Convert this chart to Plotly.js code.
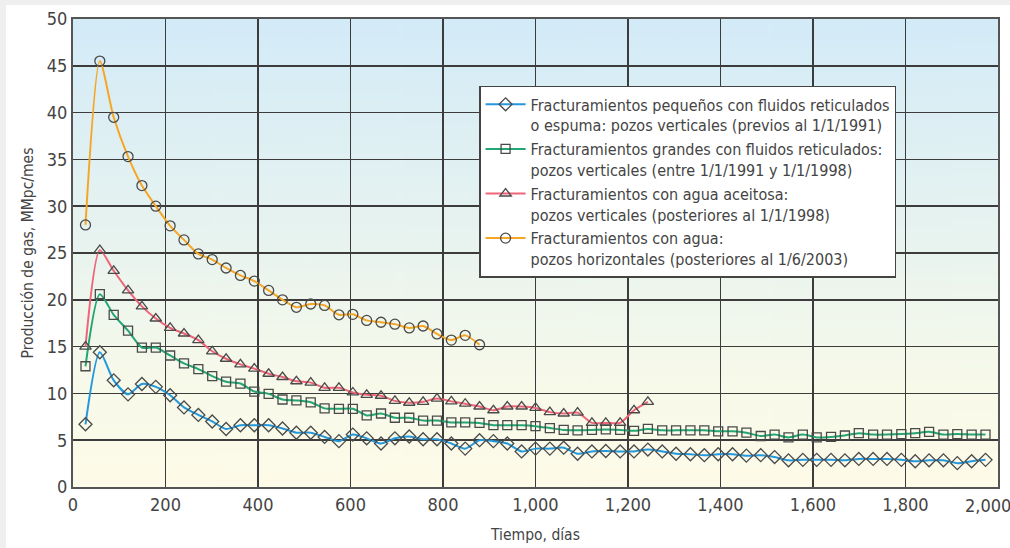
<!DOCTYPE html>
<html>
<head>
<meta charset="utf-8">
<script src="https://cdn.plot.ly/plotly-3.0.1.min.js"></script>
<style>
  html, body { margin: 0; padding: 0; background: #efefef; }
  #panel { position: absolute; left: 6px; top: 5px; width: 1004px; height: 543px; background: #ffffff; }
  #chart { position: absolute; left: 0; top: 0; width: 1010px; height: 548px; }
</style>
</head>
<body>
<div id="panel"></div>
<div id="chart"></div>
<script>
// Days since start (monthly readings)
const days = [27, 58, 88, 119, 149, 179, 210, 240, 271, 301, 331, 362, 392, 423, 453, 483, 514, 544, 575, 605,
  635, 666, 696, 727, 757, 787, 818, 848, 879, 909, 939, 970, 1000, 1031, 1061, 1091, 1122, 1152, 1183, 1213,
  1243, 1274, 1304, 1335, 1365, 1395, 1426, 1456, 1487, 1517, 1547, 1578, 1608, 1639, 1669, 1699, 1730, 1760,
  1791, 1821, 1851, 1882, 1912, 1943, 1973];

// Fracturamientos pequeños (diamonds, blue)
const smallFracs = [6.7, 14.4, 11.4, 9.9, 11.0, 10.7, 9.8, 8.5, 7.7, 7.0, 6.2, 6.6, 6.6, 6.6, 6.25, 5.8, 5.8, 5.35, 4.9, 5.6,
  5.2, 4.65, 5.2, 5.4, 5.1, 5.1, 4.65, 4.1, 5.0, 4.9, 4.65, 3.8, 4.1, 4.1, 4.2, 3.55, 3.8, 3.85, 3.8, 3.8,
  4.0, 3.8, 3.55, 3.5, 3.4, 3.5, 3.5, 3.35, 3.4, 3.2, 2.85, 2.9, 2.9, 2.9, 2.85, 3.0, 3.0, 3.0, 2.9, 2.75,
  2.85, 2.85, 2.55, 2.75, 2.9];

// Fracturamientos grandes (squares, green)
const largeFracs = [12.9, 20.6, 18.4, 16.7, 14.9, 14.9, 14.05, 13.2, 12.6, 11.85, 11.25, 11.05, 10.2, 9.95, 9.35, 9.25, 9.05, 8.4, 8.35, 8.35,
  7.65, 7.85, 7.4, 7.4, 7.1, 7.1, 6.9, 6.9, 6.85, 6.6, 6.6, 6.6, 6.5, 6.3, 6.1, 6.05, 6.1, 6.15, 6.1, 6.0,
  6.2, 6.05, 6.05, 6.05, 6.05, 5.95, 5.95, 5.8, 5.45, 5.6, 5.3, 5.6, 5.3, 5.35, 5.5, 5.75, 5.6, 5.6, 5.65, 5.75,
  5.9, 5.6, 5.65, 5.6, 5.6];

// Agua aceitosa (triangles, red)
const slickWater = [15.0, 25.3, 23.1, 21.0, 19.3, 18.0, 17.0, 16.4, 15.7, 14.5, 13.7, 13.1, 12.65, 12.1, 11.75, 11.3, 11.15, 10.6, 10.6, 10.1,
  9.85, 9.75, 9.2, 9.0, 9.1, 9.45, 9.15, 8.9, 8.6, 8.2, 8.6, 8.6, 8.45, 8.0, 7.85, 7.95, 6.85, 6.85, 6.85, 8.2,
  9.1];

// Agua, pozos horizontales (circles, orange)
const horizWater = [28.0, 45.5, 39.5, 35.3, 32.2, 30.0, 27.9, 26.4, 24.9, 24.3, 23.4, 22.6, 22.0, 21.0, 20.0, 19.2, 19.55, 19.4, 18.4, 18.45,
  17.8, 17.6, 17.4, 17.0, 17.2, 16.35, 15.7, 16.2, 15.2];

const seriesNames = [
  'Fracturamientos pequeños con fluidos reticulados<br>o espuma: pozos verticales (previos al 1/1/1991)',
  'Fracturamientos grandes con fluidos reticulados:<br>pozos verticales (entre 1/1/1991 y 1/1/1998)',
  'Fracturamientos con agua aceitosa:<br>pozos verticales (posteriores al 1/1/1998)',
  'Fracturamientos con agua:<br>pozos horizontales (posteriores al 1/6/2003)'
];

// X tick labels (the last one is drawn as a separate, slightly shifted label)
const xTickVals = [0, 200, 400, 600, 800, 1000, 1200, 1400, 1600, 1800, 2000];
const xTickText = ['0', '200', '400', '600', '800', '1,000', '1,200', '1,400', '1,600', '1,800', ''];
const xLastLabel = '2,000';

const FONT = '"Liberation Sans Narrow", "Arial Narrow", "DejaVu Sans Condensed", sans-serif';
const markerEdge = '#4a4a4a';

function mk(y, name, color, symbol, size) {
  return {
    x: days.slice(0, y.length), y: y, name: name, type: 'scatter', mode: 'lines+markers',
    line: { color: color, width: 2, shape: 'spline', smoothing: 0.7 },
    marker: { symbol: symbol, size: size, color: markerEdge, line: { width: 1.3, color: markerEdge } },
    hoverinfo: 'skip'
  };
}

const traces = [
  mk(smallFracs, seriesNames[0], '#2398dc', 'diamond-open', 10),
  mk(largeFracs, seriesNames[1], '#22a673', 'square-open', 9),
  mk(slickWater, seriesNames[2], '#ef6478', 'triangle-up-open', 10),
  mk(horizWater, seriesNames[3], '#f6a625', 'circle-open', 10)
];

// gradient background image
const cv = document.createElement('canvas');
cv.width = 10; cv.height = 400;
const ctx = cv.getContext('2d');
const g = ctx.createLinearGradient(0, 0, 0, 400);
g.addColorStop(0, '#d3ebf8');
g.addColorStop(0.45, '#e7f3f0');
g.addColorStop(0.75, '#f6f9ea');
g.addColorStop(1, '#fefbe8');
ctx.fillStyle = g; ctx.fillRect(0, 0, 10, 400);
const bgURL = cv.toDataURL('image/png');

const layout = {
  width: 1010, height: 548,
  margin: { l: 73, r: 12, t: 19, b: 61 },
  paper_bgcolor: 'rgba(0,0,0,0)',
  plot_bgcolor: 'rgba(0,0,0,0)',
  font: { family: FONT, size: 17, color: '#444' },
  showlegend: true,
  legend: {
    x: 0.439, y: 0.857, xanchor: 'left', yanchor: 'top',
    bgcolor: '#ffffff', bordercolor: '#444', borderwidth: 1.5,
    font: { family: FONT, size: 16, color: '#444' },
    valign: 'top', tracegroupgap: 0, itemwidth: 40
  },
  xaxis: {
    range: [0, 2000], tickmode: 'array', tickvals: xTickVals, ticktext: xTickText,
    showgrid: true, gridcolor: '#3c3c3c', gridwidth: 1.5,
    showline: true, linecolor: '#555', linewidth: 2, mirror: true,
    zeroline: false, ticks: '',
    tickfont: { family: FONT, size: 18, color: '#444' },
    title: { text: 'Tiempo, días', font: { family: FONT, size: 15.5, color: '#444' }, standoff: 16 },
    automargin: false
  },
  yaxis: {
    range: [0, 50], dtick: 5, tick0: 0,
    showgrid: true, gridcolor: '#3c3c3c', gridwidth: 1.5,
    showline: true, linecolor: '#555', linewidth: 2, mirror: true,
    zeroline: false, ticks: '',
    tickfont: { family: FONT, size: 18, color: '#444' },
    title: { text: 'Producción de gas, MMpc/mes', font: { family: FONT, size: 15.5, color: '#444' }, standoff: 9 },
    automargin: false
  },
  annotations: [{
    text: xLastLabel, x: 2000, xref: 'x', y: 0, yref: 'paper',
    xanchor: 'center', yanchor: 'top', xshift: -10, yshift: -6, showarrow: false,
    font: { family: FONT, size: 18, color: '#444' }
  }],
  images: [{
    source: bgURL, xref: 'paper', yref: 'paper', x: 0, y: 1, sizex: 1, sizey: 1,
    sizing: 'stretch', layer: 'below', xanchor: 'left', yanchor: 'top'
  }]
};

Plotly.newPlot('chart', traces, layout, { displayModeBar: false, staticPlot: true });
</script>
</body>
</html>
